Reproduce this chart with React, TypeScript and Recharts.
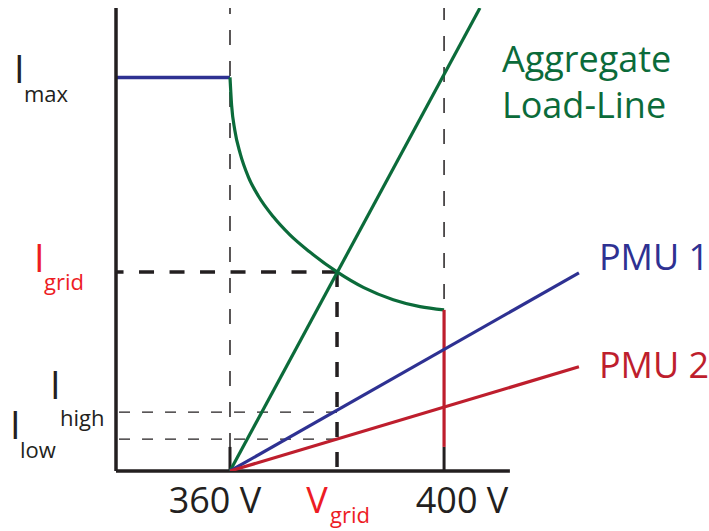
import { ComposedChart, Line, XAxis, YAxis, ReferenceLine, ReferenceDot } from 'recharts'

// voltage axis (V) and current axis (relative units, 0..100 = full axis height)
const vMin = 338.7
const vMax = 425.4
const vAxisEnd = 412.3
const iTop = 100

const xTicks = [360, 380, 400]
const xTickMain = ['360 V', 'V', '400 V']
const xTickSub = ['', 'grid', '']

const yTicks = [6.9, 12.7, 43, 85]
const yTickSub = ['low', 'high', 'grid', 'max']

// I_max current limit
const limitV = [338.7, 360]
const limitI = [85, 85]

// aggregate power curve between 360 V and 400 V
const curveV = [360, 360.3, 360.9, 361.9, 363.4, 365.3, 368.1, 371.2, 374.8, 380, 385, 390.5, 395.5, 400]
const curveI = [85, 79, 73.6, 68.6, 63.6, 59.4, 54.9, 51, 47.4, 43, 39.6, 37, 35.5, 34.8]

const aggV = [360, 406.7]
const aggI = [0, 100]
const pmu1V = [360, 425.2]
const pmu1I = [0, 42.8]
const pmu2V = [360, 425.2]
const pmu2I = [0, 22.5]
const cutV = [400, 400]
const cutI = [34.8, 5.2]
const innerTickI = 5.2

const zip = (vs: number[], is: number[]) => vs.map((v, k) => ({ v, i: is[k] }))

const GREEN = '#0b6b3a'
const BLUE = '#2e3192'
const RED = '#be1e2d'
const BRIGHT_RED = '#ed1c24'
const INK = '#231f20'
const FONT = '"Open Sans", sans-serif'

const PLOT_BOTTOM = 471

const xLabelStyle: Record<number, { dx: number; subDx: number; color: string }> = {
  360: { dx: -15, subDx: 0, color: INK },
  380: { dx: -20, subDx: -7, color: BRIGHT_RED },
  400: { dx: 18, subDx: 0, color: INK },
}

const yLabelStyle: Record<string, { ix: number; iy: number; sx: number; sy: number; color: string }> = {
  max: { ix: 14, iy: 6, sx: 24, sy: 25, color: INK },
  grid: { ix: 34, iy: 0, sx: 44, sy: 18, color: BRIGHT_RED },
  high: { ix: 50, iy: -13, sx: 60, sy: 14, color: INK },
  low: { ix: 10, iy: 0, sx: 20, sy: 19, color: INK },
}

const XTick = (props: any) => {
  const { x, payload } = props
  const k = xTicks.indexOf(payload.value)
  const s = xLabelStyle[payload.value]
  if (k < 0 || !s) return null
  return (
    <g>
      <text x={x + s.dx} y={PLOT_BOTTOM + 42} textAnchor="middle" fontFamily={FONT} fontSize={36} fill={s.color}>
        {xTickMain[k]}
      </text>
      {xTickSub[k] && (
        <text x={x + s.subDx} y={PLOT_BOTTOM + 52} textAnchor="start" fontFamily={FONT} fontSize={22} fill={s.color}>
          {xTickSub[k]}
        </text>
      )}
    </g>
  )
}

const YTick = (props: any) => {
  const { y, payload } = props
  const k = yTicks.indexOf(payload.value)
  if (k < 0) return null
  const s = yLabelStyle[yTickSub[k]]
  return (
    <g>
      <text x={s.ix} y={y + s.iy} fontFamily={FONT} fontSize={38} fill={s.color}>I</text>
      <text x={s.sx} y={y + s.sy} fontFamily={FONT} fontSize={22} fill={s.color}>{yTickSub[k]}</text>
    </g>
  )
}

const seriesLabel = (lines: string[], color: string, dx: number, dy: number, lineGap: number) => (props: any) => {
  const vb = props.viewBox || {}
  const x0 = (vb.x ?? 0) + (vb.width ?? 0) / 2
  const y0 = (vb.y ?? 0) + (vb.height ?? 0) / 2
  return (
    <text fontFamily={FONT} fontSize={36} fill={color}>
      {lines.map((t, k) => (
        <tspan key={t} x={x0 + dx} y={y0 + dy + k * lineGap}>{t}</tspan>
      ))}
    </text>
  )
}

export default function App() {
  const last = (a: number[]) => a[a.length - 1]

  return (
    <div style={{ position: 'absolute', left: 0, top: 0, width: 709, height: 531, background: '#fff' }}>
      <ComposedChart width={709} height={531} margin={{ top: 8, right: 129, bottom: 0, left: 0 }}>
        <XAxis
          type="number"
          dataKey="v"
          domain={[vMin, vMax]}
          allowDataOverflow
          ticks={xTicks}
          interval={0}
          axisLine={false}
          tickLine={false}
          tick={<XTick />}
          height={60}
        />
        <YAxis
          type="number"
          dataKey="i"
          domain={[0, iTop]}
          allowDataOverflow
          ticks={yTicks}
          interval={0}
          axisLine={{ stroke: INK, strokeWidth: 3.5 }}
          tickLine={false}
          tick={<YTick />}
          width={116}
        />

        {/* thin dashed guides */}
        <ReferenceLine x={360} stroke={INK} strokeWidth={1.5} strokeDasharray="15 16" strokeDashoffset={8} />
        <ReferenceLine segment={[{ x: 400, y: iTop }, { x: 400, y: last(curveI) }]} stroke={INK} strokeWidth={1.5} strokeDasharray="15 16" strokeDashoffset={3} />
        <ReferenceLine segment={[{ x: 380, y: yTicks[1] }, { x: vMin, y: yTicks[1] }]} stroke={INK} strokeWidth={1.2} strokeDasharray="11 12" />
        <ReferenceLine segment={[{ x: 380, y: yTicks[0] }, { x: vMin, y: yTicks[0] }]} stroke={INK} strokeWidth={1.2} strokeDasharray="11 12" />

        {/* operating point */}
        <ReferenceLine segment={[{ x: 380, y: yTicks[2] }, { x: vMin, y: yTicks[2] }]} stroke={INK} strokeWidth={3.5} strokeDasharray="15 15.5" />
        <ReferenceLine segment={[{ x: 380, y: yTicks[2] }, { x: 380, y: 0 }]} stroke={INK} strokeWidth={3.5} strokeDasharray="15 15" />

        {/* V axis and inner ticks */}
        <ReferenceLine segment={[{ x: vMin, y: 0 }, { x: vAxisEnd, y: 0 }]} stroke={INK} strokeWidth={3.5} />
        <ReferenceLine segment={[{ x: 360, y: 0 }, { x: 360, y: innerTickI }]} stroke={INK} strokeWidth={3} />
        <ReferenceLine segment={[{ x: 400, y: 0 }, { x: 400, y: innerTickI }]} stroke={INK} strokeWidth={3} />

        <Line data={zip(limitV, limitI)} dataKey="i" type="linear" stroke={BLUE} strokeWidth={3.5} dot={false} activeDot={false} isAnimationActive={false} />
        <Line data={zip(curveV, curveI)} dataKey="i" type="monotone" stroke={GREEN} strokeWidth={3.2} dot={false} activeDot={false} isAnimationActive={false} />
        <Line data={zip(cutV, cutI)} dataKey="i" type="linear" stroke={RED} strokeWidth={3.2} dot={false} activeDot={false} isAnimationActive={false} />
        <Line data={zip(aggV, aggI)} dataKey="i" type="linear" stroke={GREEN} strokeWidth={3.2} dot={false} activeDot={false} isAnimationActive={false} />
        <Line data={zip(pmu1V, pmu1I)} dataKey="i" type="linear" stroke={BLUE} strokeWidth={3.2} dot={false} activeDot={false} isAnimationActive={false} />
        <Line data={zip(pmu2V, pmu2I)} dataKey="i" type="linear" stroke={RED} strokeWidth={3.2} dot={false} activeDot={false} isAnimationActive={false} />

        <ReferenceDot x={last(aggV)} y={last(aggI)} r={0} fill="none" stroke="none" label={seriesLabel(['Aggregate', 'Load-Line'], GREEN, 22, 64, 46)} />
        <ReferenceDot x={last(pmu1V)} y={last(pmu1I)} r={0} fill="none" stroke="none" label={seriesLabel(['PMU 1'], BLUE, 20, -3, 0)} />
        <ReferenceDot x={last(pmu2V)} y={last(pmu2I)} r={0} fill="none" stroke="none" label={seriesLabel(['PMU 2'], RED, 20, 11, 0)} />
      </ComposedChart>
    </div>
  )
}
